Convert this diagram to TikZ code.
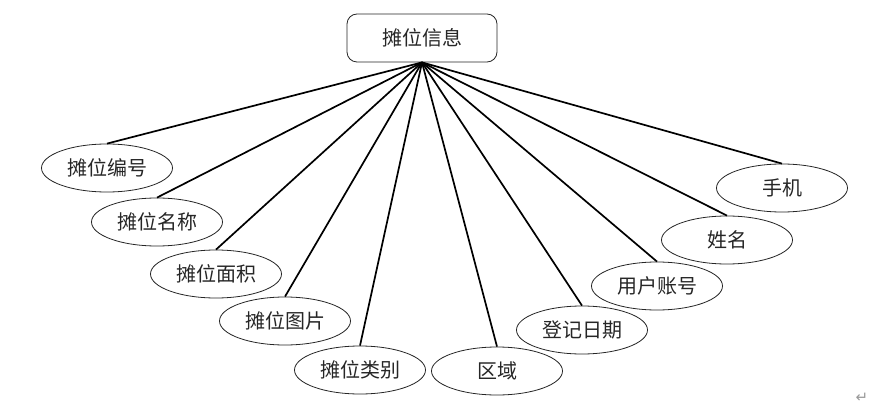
\documentclass[tikz,border=0pt]{standalone}
\usepackage{fontspec}
\setmainfont{Noto Sans CJK SC}
\newfontfamily\symfont{DejaVu Sans}
\usetikzlibrary{shapes,positioning}

\begin{document}
\begin{tikzpicture}[
  x=1pt, y=-1pt,
  every node/.style={
    text centered,
    text=black!85
  },
  entity/.style={
    rectangle,
    rounded corners=10pt,
    minimum width=150pt,
    minimum height=48pt,
    draw=black!85,
    line width=0.8pt,
    font=\fontsize{20}{22}\selectfont
  },
  attribute/.style={
    ellipse,
    minimum width=131pt,
    minimum height=48pt,
    inner sep=0pt,
    draw=black!85,
    line width=0.8pt,
    font=\fontsize{20}{22}\selectfont
  },
  link/.style={
    line width=1.7pt,
    black
  }
]
  \useasboundingbox (0,0) rectangle (893,414);

  \node (Tanwei) [entity] at (422,38) {摊位信息};
  \coordinate (Hub) at (Tanwei.south);

  \node (Bianhao) [attribute] at (107,168) {摊位编号};
  \node (Mingcheng) [attribute] at (157,222) {摊位名称};
  \node (Mianji) [attribute] at (216,274) {摊位面积};
  \node (Tupian) [attribute] at (285,321) {摊位图片};
  \node (Leibie) [attribute] at (360,370) {摊位类别};
  \node (Quyu) [attribute] at (497,371) {区域};
  \node (Riqi) [attribute] at (582,330) {登记日期};
  \node (Zhanghao) [attribute] at (657,286) {用户账号};
  \node (Xingming) [attribute] at (727,240) {姓名};
  \node (Shouji) [attribute] at (782,188) {手机};

  \draw[link] (Hub) -- (Bianhao.north);
  \draw[link] (Hub) -- (Mingcheng.north);
  \draw[link] (Hub) -- (Mianji.north);
  \draw[link] (Hub) -- (Tupian.north);
  \draw[link] (Hub) -- (Leibie.north);
  \draw[link] (Hub) -- (Quyu.north);
  \draw[link] (Hub) -- (Riqi.north);
  \draw[link] (Hub) -- (Zhanghao.north);
  \draw[link] (Hub) -- (Xingming.north);
  \draw[link] (Hub) -- (Shouji.north);

  \node (Parmark) [text=black!40, font=\symfont\fontsize{15}{16}\selectfont] at (862,398) {↵};
\end{tikzpicture}
\end{document}
